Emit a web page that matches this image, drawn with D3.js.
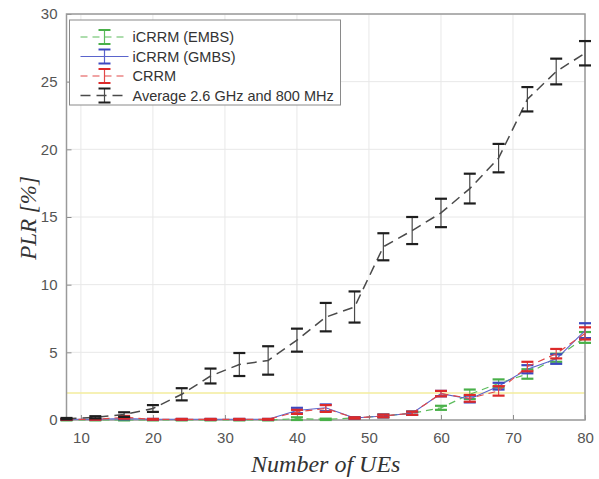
<!DOCTYPE html>
<html>
<head>
<meta charset="utf-8">
<script src="https://cdn.jsdelivr.net/npm/d3@7"></script>
<style>
  body { margin: 0; background: #fff; }
  svg { display: block; }
</style>
</head>
<body>
<div id="chart"></div>
<script>
// number of UEs
const ues = [8, 12, 16, 20, 24, 28, 32, 36, 40, 44, 48, 52, 56, 60, 64, 68, 72, 76, 80];

// iCRRM (EMBS)
const embsMean = [0, 0, 0, 0, 0, 0, 0, 0, 0.1, 0.05, 0.15, 0.3, 0.5, 0.9, 1.9, 2.7, 3.4, 4.6, 6.1];
const embsErr = [0.03, 0.03, 0.03, 0.03, 0.03, 0.03, 0.03, 0.03, 0.1, 0.05, 0.05, 0.1, 0.12, 0.15, 0.35, 0.3, 0.35, 0.3, 0.4];

// iCRRM (GMBS)
const gmbsMean = [0.05, 0.05, 0.1, 0.05, 0.05, 0.05, 0.05, 0.05, 0.7, 0.9, 0.15, 0.3, 0.5, 1.95, 1.55, 2.5, 3.75, 4.5, 6.6];
const gmbsErr = [0.03, 0.03, 0.05, 0.03, 0.03, 0.03, 0.03, 0.03, 0.2, 0.25, 0.05, 0.1, 0.12, 0.2, 0.25, 0.25, 0.3, 0.35, 0.55];

// CRRM
const crrmMean = [0.05, 0.05, 0.2, 0.05, 0.05, 0.05, 0.05, 0.05, 0.6, 0.85, 0.15, 0.3, 0.5, 1.95, 1.6, 2.15, 3.95, 4.9, 6.4];
const crrmErr = [0.03, 0.03, 0.1, 0.03, 0.03, 0.03, 0.03, 0.03, 0.15, 0.25, 0.05, 0.1, 0.12, 0.2, 0.25, 0.35, 0.35, 0.35, 0.45];

// Average 2.6 GHz and 800 MHz
const avgMean = [0.1, 0.2, 0.4, 0.85, 1.9, 3.25, 4.1, 4.4, 5.9, 7.6, 8.35, 12.8, 14.0, 15.3, 17.1, 19.35, 23.7, 25.75, 27.1];
const avgErr = [0.05, 0.08, 0.17, 0.25, 0.45, 0.55, 0.85, 1.05, 0.85, 1.05, 1.15, 1.0, 1.0, 1.05, 1.1, 1.05, 0.9, 0.95, 0.9];

const threshold = 2;
const xTicks = [10, 20, 30, 40, 50, 60, 70, 80];
const yTicks = [0, 5, 10, 15, 20, 25, 30];

const series = [
    { name: 'iCRRM (EMBS)', mean: embsMean, err: embsErr, color: '#5cbc5c', cap: '#49b049', dash: '7,5', width: 1.2 },
    { name: 'iCRRM (GMBS)', mean: gmbsMean, err: gmbsErr, color: '#5a64cc', cap: '#3c48c0', dash: null, width: 1.1 },
    { name: 'CRRM', mean: crrmMean, err: crrmErr, color: '#e24848', cap: '#dc2a2a', dash: '7,5', width: 1.2 },
    { name: 'Average 2.6 GHz and 800 MHz', mean: avgMean, err: avgErr, color: '#4a4a4a', cap: '#1e1e1e', dash: '10,6', width: 1.5 }
];

const W = 599, H = 479;
const margin = { top: 14, right: 14, bottom: 59, left: 66.5 };
const width = W - margin.left - margin.right;
const height = H - margin.top - margin.bottom;

const svg = d3.select('#chart')
    .append('svg')
    .attr('width', W)
    .attr('height', H);

const g = svg.append('g')
    .attr('transform', `translate(${margin.left}, ${margin.top})`);

const xScale = d3.scaleLinear().domain([8, 80]).range([0, width]);
const yScale = d3.scaleLinear().domain([0, 30]).range([height, 0]);

// grid
g.selectAll('.vgrid')
    .data(xTicks)
    .enter().append('line')
    .attr('x1', d => xScale(d)).attr('x2', d => xScale(d))
    .attr('y1', 0).attr('y2', height)
    .attr('stroke', '#e8e8e8')
    .attr('stroke-width', 1);

g.selectAll('.hgrid')
    .data(yTicks)
    .enter().append('line')
    .attr('x1', 0).attr('x2', width)
    .attr('y1', d => yScale(d)).attr('y2', d => yScale(d))
    .attr('stroke', '#e8e8e8')
    .attr('stroke-width', 1);

// threshold line
g.append('line')
    .attr('x1', 0).attr('x2', width)
    .attr('y1', yScale(threshold)).attr('y2', yScale(threshold))
    .attr('stroke', '#f3ec9c')
    .attr('stroke-width', 1.5);

// axes (MATLAB style, inward ticks)
const xAxis = g.append('g')
    .attr('transform', `translate(0, ${height})`)
    .call(d3.axisBottom(xScale).tickValues(xTicks).tickSizeInner(-5).tickSizeOuter(0).tickPadding(12));
const yAxis = g.append('g')
    .call(d3.axisLeft(yScale).tickValues(yTicks).tickSizeInner(-5).tickSizeOuter(0).tickPadding(9));

[xAxis, yAxis].forEach(a => {
    a.select('.domain').remove();
    a.selectAll('line').attr('stroke', '#8c8c8c');
    a.selectAll('text')
        .attr('fill', '#555')
        .style('font-family', '"Liberation Sans", Arial, sans-serif')
        .style('font-size', '15px');
});

// box
g.append('rect')
    .attr('x', 0).attr('y', 0)
    .attr('width', width).attr('height', height)
    .attr('fill', 'none')
    .attr('stroke', '#9a9a9a')
    .attr('stroke-width', 1.5);

// series
const capW = 6;
series.forEach(s => {
    const pts = ues.map((u, i) => ({ x: u, y: s.mean[i], e: s.err[i] }));

    const line = d3.line()
        .x(d => xScale(d.x))
        .y(d => yScale(d.y));

    g.append('path')
        .datum(pts)
        .attr('fill', 'none')
        .attr('stroke', s.color)
        .attr('stroke-width', s.width)
        .attr('stroke-dasharray', s.dash)
        .attr('d', line);

    const eb = g.append('g');
    eb.selectAll('.stem')
        .data(pts)
        .enter().append('line')
        .attr('x1', d => xScale(d.x)).attr('x2', d => xScale(d.x))
        .attr('y1', d => yScale(d.y - d.e)).attr('y2', d => yScale(d.y + d.e))
        .attr('stroke', s.color)
        .attr('stroke-width', 1.2);

    ['lo', 'hi'].forEach(k => {
        eb.selectAll('.cap-' + k)
            .data(pts)
            .enter().append('line')
            .attr('x1', d => xScale(d.x) - capW).attr('x2', d => xScale(d.x) + capW)
            .attr('y1', d => yScale(k === 'lo' ? d.y - d.e : d.y + d.e))
            .attr('y2', d => yScale(k === 'lo' ? d.y - d.e : d.y + d.e))
            .attr('stroke', s.cap)
            .attr('stroke-width', 2.2);
    });
});

// legend
const legend = g.append('g').attr('transform', 'translate(3, 6)');
legend.append('rect')
    .attr('x', 0).attr('y', 0)
    .attr('width', 271).attr('height', 85)
    .attr('fill', '#fff')
    .attr('stroke', '#8a8a8a')
    .attr('stroke-width', 1);

series.forEach((s, i) => {
    const yy = 17 + i * 19.5;
    const row = legend.append('g').attr('transform', `translate(0, ${yy})`);
    row.append('line')
        .attr('x1', 11).attr('x2', 59)
        .attr('y1', 0).attr('y2', 0)
        .attr('stroke', s.color)
        .attr('stroke-width', s.width)
        .attr('stroke-dasharray', s.dash);
    row.append('line')
        .attr('x1', 35).attr('x2', 35).attr('y1', -7).attr('y2', 7)
        .attr('stroke', s.color).attr('stroke-width', 1.2);
    [-7, 7].forEach(c => {
        row.append('line')
            .attr('x1', 29).attr('x2', 41).attr('y1', c).attr('y2', c)
            .attr('stroke', s.cap).attr('stroke-width', 2);
    });
    row.append('text')
        .attr('x', 63)
        .attr('y', 0)
        .attr('dy', '0.35em')
        .attr('fill', '#333')
        .style('font-family', '"Liberation Sans", Arial, sans-serif')
        .style('font-size', '14.5px')
        .text(s.name);
});

// axis labels
svg.append('text')
    .attr('x', margin.left + width / 2)
    .attr('y', 472)
    .attr('text-anchor', 'middle')
    .attr('fill', '#333')
    .style('font-family', '"Liberation Serif", "Times New Roman", serif')
    .style('font-style', 'italic')
    .style('font-size', '24px')
    .text('Number of UEs');

svg.append('text')
    .attr('transform', 'rotate(-90)')
    .attr('x', -218)
    .attr('y', 36)
    .attr('text-anchor', 'middle')
    .attr('fill', '#333')
    .style('font-family', '"Liberation Serif", "Times New Roman", serif')
    .style('font-style', 'italic')
    .style('font-size', '23px')
    .text('PLR [%]');
</script>
</body>
</html>
